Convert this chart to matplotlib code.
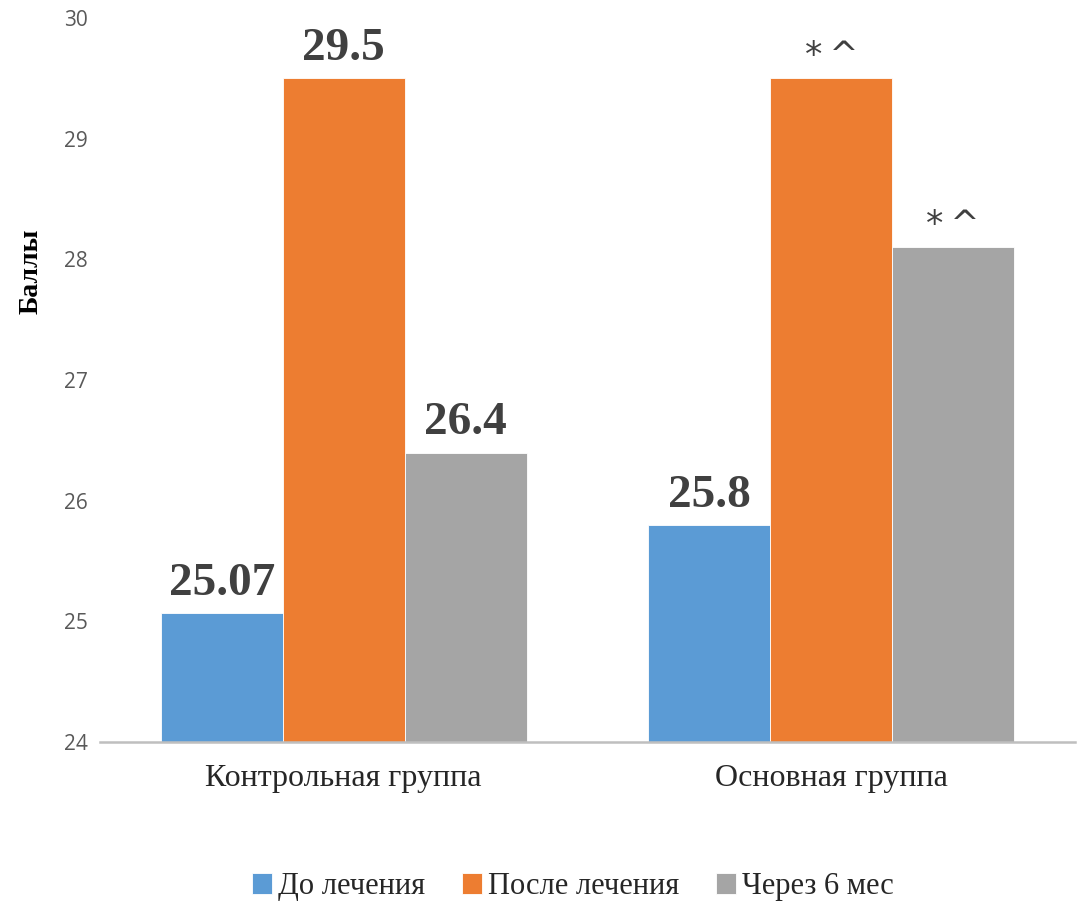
import matplotlib.pyplot as plt
import numpy as np

groups = ['Контрольная группа', 'Основная группа']
series = ['До лечения', 'После лечения', 'Через 6 мес']
values = [
    [25.07, 25.8],   # До лечения
    [29.5, 29.5],    # После лечения
    [26.4, 28.1],    # Через 6 мес
]
# labels shown above each bar
bar_labels = [
    ['25.07', '25.8'],
    ['29.5', '*\u2009^'],
    ['26.4', '*\u2009^'],
]
colors = ['#5B9BD5', '#ED7D31', '#A5A5A5']

fig = plt.figure(figsize=(10.86, 9.05), dpi=100)
ax = fig.add_axes([0.092, 0.180, 0.898, 0.800])

x = np.arange(len(groups))
width = 0.25
for i, name in enumerate(series):
    pos = x + (i - 1) * width
    bars = ax.bar(pos, values[i], width, bottom=0, color=colors[i], label=name,
                  edgecolor='white', linewidth=0.6, zorder=2)
    for b, lab in zip(bars, bar_labels[i]):
        top = b.get_height()
        if lab.startswith('*'):
            ax.annotate(lab, (b.get_x() + b.get_width() / 2, top), xytext=(0, 4),
                        textcoords='offset points', ha='center', va='bottom',
                        fontsize=25, family='DejaVu Sans', color='#404040')
        else:
            ax.annotate(lab, (b.get_x() + b.get_width() / 2, top), xytext=(0, 6),
                        textcoords='offset points', ha='center', va='bottom',
                        fontsize=34, fontweight='bold', family='Liberation Serif',
                        color='#404040')

ax.set_ylim(24, 30)
ax.set_xlim(-0.5, 1.5)
ax.set_yticks(np.arange(24, 31, 1))
ax.set_xticks(x)
ax.set_xticklabels(groups, family='Liberation Serif', fontsize=23, color='#262626')
for lab in ax.get_yticklabels():
    lab.set_family('Open Sans')
    lab.set_fontsize(15)
    lab.set_color('#595959')
ax.tick_params(axis='both', length=0)
ax.tick_params(axis='x', pad=16)
ax.tick_params(axis='y', pad=9)

for s in ['top', 'right', 'left']:
    ax.spines[s].set_visible(False)
ax.spines['bottom'].set_color('#BFBFBF')
ax.spines['bottom'].set_linewidth(1.8)
ax.spines['bottom'].set_zorder(3)

ax.set_ylabel('Баллы', family='Liberation Serif', fontsize=20, fontweight='bold',
              color='#000000')
ax.yaxis.set_label_coords(-0.058, 0.65)

leg = ax.legend(loc='center', bbox_to_anchor=(0.485, -0.2), ncol=3, frameon=False,
                prop={'family': 'Liberation Serif', 'size': 22},
                handlelength=0.65, handleheight=0.65, handletextpad=0.2,
                columnspacing=1.2)
for t in leg.get_texts():
    t.set_color('#262626')

fig.savefig('out.png', dpi=100)
